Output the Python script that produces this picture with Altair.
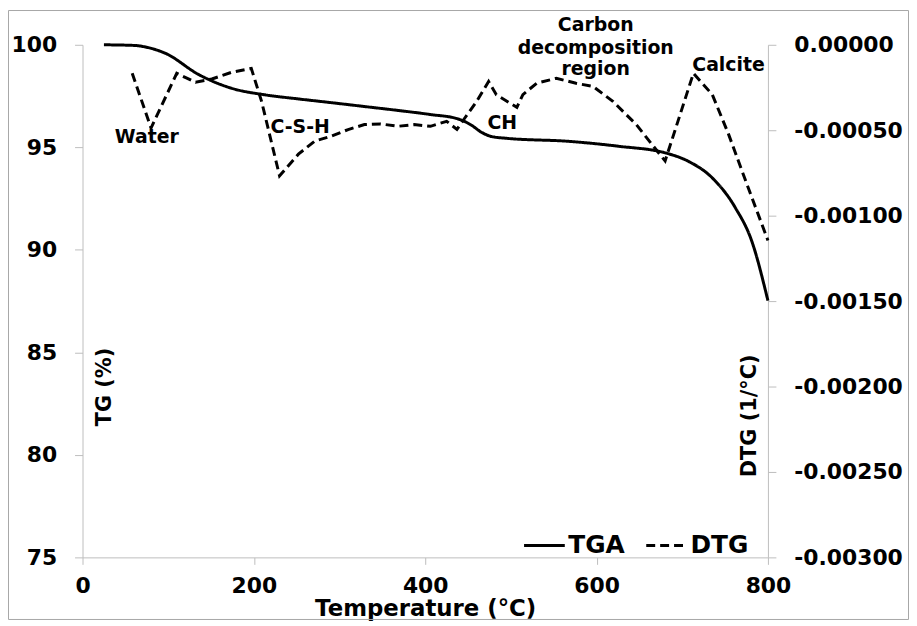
import altair as alt
import pandas as pd

# ---- data ----
tga_temp = [25, 60, 78, 97, 136, 174, 213, 252, 290, 329, 368, 406, 437, 445, 455, 465, 478,
            495, 568, 626, 681, 707, 735, 762, 781, 800]
tga_mass = [100.0, 99.97, 99.85, 99.58, 98.54, 97.88, 97.56, 97.36, 97.18, 96.99, 96.80, 96.60,
            96.40, 96.28, 96.05, 95.75, 95.52, 95.44, 95.29, 95.05, 94.72, 94.32, 93.51, 92.05,
            90.44, 87.52]

dtg_temp = [58, 80, 110, 132, 151, 174, 197, 209, 230, 252, 271, 290, 310, 329, 348, 368, 387,
            406, 425, 437, 446, 460, 474, 483, 507, 514, 530, 553, 576, 596, 619, 646, 680, 713,
            735, 754, 777, 800]
dtg_rate = [-0.000167, -0.000487, -0.000167, -0.000219, -0.000200, -0.000161, -0.000138,
            -0.000331, -0.000767, -0.000640, -0.000564, -0.000535, -0.000496, -0.000467,
            -0.000463, -0.000477, -0.000467, -0.000477, -0.000448, -0.000495, -0.000430,
            -0.000331, -0.000215, -0.000292, -0.000366, -0.000292, -0.000225, -0.000196,
            -0.000225, -0.000244, -0.000331, -0.000465, -0.000680, -0.000167, -0.000291,
            -0.000523, -0.000837, -0.001145]

x_ticks = [0, 200, 400, 600, 800]
tg_ticks = [75, 80, 85, 90, 95, 100]
dtg_ticks = [0.0, -0.0005, -0.001, -0.0015, -0.002, -0.0025, -0.003]

note_text = ["Water", "C-S-H", "CH", "Carbon", "decomposition", "region", "Calcite"]
note_temp = [75, 254, 490, 599, 599, 599, 754]
note_tg = [95.49, 95.97, 96.17, 100.97, 99.83, 98.80, 99.03]

series_names = ["TGA", "DTG"]

# ---- tables ----
tga_df = pd.DataFrame({"temp": tga_temp, "val": tga_mass, "series": "TGA"})
dtg_df = pd.DataFrame({"temp": dtg_temp, "val": dtg_rate, "series": "DTG"})
note_df = pd.DataFrame({"temp": note_temp, "val": note_tg, "label": note_text})
frame_df = pd.DataFrame({"k": [0]})

FONT = "DejaVu Sans"
AXIS_GREY = "#bdbdbd"

x_enc = alt.X(
    "temp:Q",
    scale=alt.Scale(domain=[0, 800], nice=False, zero=False),
    axis=alt.Axis(
        values=x_ticks, format="d", title="Temperature (°C)", grid=False,
        labelFlush=False, labelOverlap=False, tickSize=7, labelPadding=11,
        domainColor=AXIS_GREY, tickColor=AXIS_GREY,
        labelFontSize=22, labelFontWeight="bold", labelFont=FONT, labelColor="black",
        titleFontSize=23, titleFontWeight="bold", titleFont=FONT, titleColor="black",
        titleBaseline="alphabetic", titleY=59,
    ),
)

dash_enc = alt.StrokeDash(
    "series:N",
    scale=alt.Scale(domain=series_names, range=[[1, 0], [9, 5]]),
    legend=alt.Legend(
        orient="none", legendX=443, legendY=482, direction="horizontal", title=None,
        symbolType="stroke", symbolSize=1681, symbolStrokeWidth=3, symbolStrokeColor="black",
        labelFontSize=25, labelFontWeight="bold", labelFont=FONT, labelColor="black",
        columnPadding=15, labelOffset=2, padding=0,
    ),
)

tga_line = alt.Chart(tga_df).mark_line(color="black", strokeWidth=3, interpolate="monotone").encode(
    x=x_enc,
    y=alt.Y(
        "val:Q",
        scale=alt.Scale(domain=[75, 100], nice=False, zero=False),
        axis=alt.Axis(
            orient="left", values=tg_ticks, grid=False, title="TG (%)",
            tickSize=8, labelPadding=18, domainColor=AXIS_GREY, tickColor=AXIS_GREY,
            labelFontSize=22, labelFontWeight="bold", labelFont=FONT, labelColor="black",
            titleFontSize=21, titleFontWeight="bold", titleFont=FONT, titleColor="black",
            titleAngle=270, titleX=22, titleY=344, titleBaseline="middle", titleAlign="center",
        ),
    ),
    strokeDash=dash_enc,
)

dtg_line = alt.Chart(dtg_df).mark_line(color="black", strokeWidth=3).encode(
    x=x_enc,
    y=alt.Y(
        "val:Q",
        scale=alt.Scale(domain=[-0.003, 0], nice=False, zero=False),
        axis=alt.Axis(
            orient="right", values=dtg_ticks, grid=False, title="DTG (1/°C)",
            labelExpr="(datum.value < 0 ? '-' : '') + format(abs(datum.value), '.5f')",
            tickSize=8, labelPadding=18, domainColor=AXIS_GREY, tickColor=AXIS_GREY,
            labelFontSize=22, labelFontWeight="bold", labelFont=FONT, labelColor="black",
            titleFontSize=21, titleFontWeight="bold", titleFont=FONT, titleColor="black",
            titleAngle=270, titleX=-19, titleY=373, titleBaseline="middle", titleAlign="center",
        ),
    ),
    strokeDash=dash_enc,
)

notes = alt.Chart(note_df).mark_text(
    font=FONT, fontWeight="bold", fontSize=19, color="black", align="center", baseline="middle"
).encode(
    x=x_enc,
    y=alt.Y("val:Q", scale=alt.Scale(domain=[75, 100], nice=False, zero=False), axis=None),
    text="label:N",
)

frame = alt.Chart(frame_df).mark_rect(filled=False, stroke="#a6a6a6", strokeWidth=1).encode(
    x=alt.value(-74.5), x2=alt.value(831.5), y=alt.value(-34.5), y2=alt.value(578.5)
)

chart = (
    alt.layer(tga_line, dtg_line, notes, frame)
    .resolve_scale(y="independent")
    .properties(
        width=690, height=516,
        autosize=alt.AutoSizeParams(type="none"),
        padding={"left": 75, "top": 35, "right": 142, "bottom": 63},
    )
    .configure_view(strokeWidth=0)
)

chart.save("out.html", embed_options={"renderer": "svg", "actions": False})
